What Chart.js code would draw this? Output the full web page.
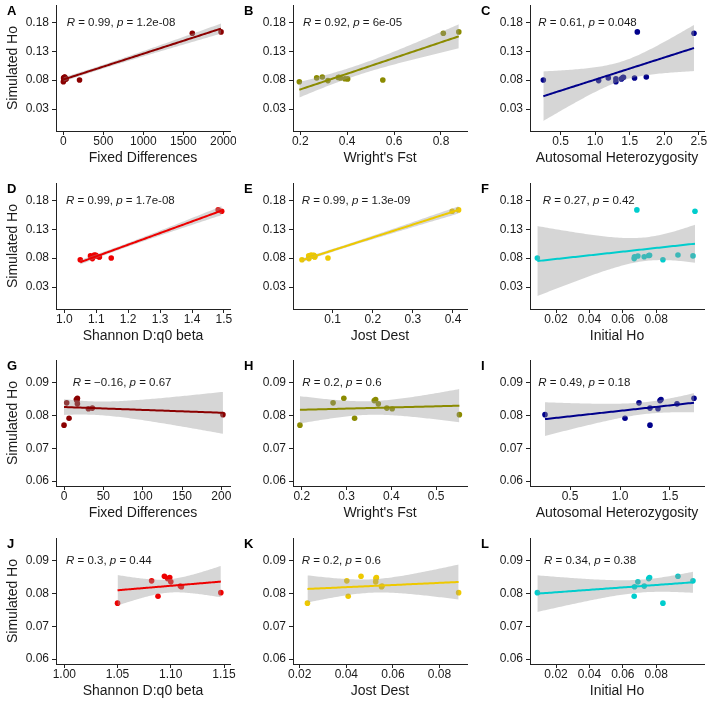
<!DOCTYPE html>
<html>
<head>
<meta charset="utf-8">
<script src="https://cdn.jsdelivr.net/npm/chart.js@4.4.1/dist/chart.umd.min.js"></script>
<style>
  body { margin: 0; background: #fff; }
  #wrap { position: relative; width: 709px; height: 704px; overflow: hidden; }
  .panel { position: absolute; width: 236px; height: 171px; }
</style>
</head>
<body>
<div id="wrap"></div>
<script>
// 12 populations: the first 10 are the close ones (rows 3-4), the last two are the divergent pair
const simHo       = [0.0771, 0.0839, 0.0853, 0.0792, 0.0849, 0.0846, 0.0836, 0.0823, 0.0821, 0.0803, 0.1612, 0.1635];
const fixedDiff   = [0, 3.4, 17, 6.4, 15.7, 16.5, 17, 36, 31, 202, 1612, 1971];
const wrightFst   = [0.196, 0.27, 0.294, 0.318, 0.365, 0.362, 0.371, 0.39, 0.402, 0.552, 0.81, 0.876];
const autoHet     = [1.30, 1.19, 1.74, 1.05, 1.41, 1.40, 1.57, 1.30, 1.38, 0.25, 2.43, 1.61];
const shannonBeta = [1.050, 1.082, 1.094, 1.088, 1.099, 1.097, 1.100, 1.109, 1.110, 1.147, 1.493, 1.482];
const jostDest    = [0.0233, 0.0402, 0.0463, 0.0408, 0.0529, 0.0527, 0.0526, 0.0553, 0.0551, 0.0882, 0.398, 0.414];
const initialHo   = [0.084, 0.102, 0.093, 0.0668, 0.076, 0.0755, 0.069, 0.0728, 0.067, 0.0088, 0.1032, 0.0684];

const xVariables = [fixedDiff, wrightFst, autoHet, shannonBeta, jostDest, initialHo];
const xTitles = ['Fixed Differences', "Wright's Fst", 'Autosomal Heterozygosity', 'Shannon D:q0 beta', 'Jost Dest', 'Initial Ho'];
const panelLetters = ['A','B','C','D','E','F','G','H','I','J','K','L'];
const rLabels = ['0.99', '0.92', '0.61', '0.99', '0.99', '0.27', '\u22120.16', '0.2', '0.49', '0.3', '0.2', '0.34'];
const pLabels = ['1.2e-08', '6e-05', '0.048', '1.7e-08', '1.3e-09', '0.42', '0.67', '0.6', '0.18', '0.44', '0.6', '0.38'];

const xTicks = [
  [0, 500, 1000, 1500, 2000], [0.2, 0.4, 0.6, 0.8], [0.5, 1.0, 1.5, 2.0, 2.5],
  [1.0, 1.1, 1.2, 1.3, 1.4, 1.5], [0.1, 0.2, 0.3, 0.4], [0.02, 0.04, 0.06, 0.08],
  [0, 50, 100, 150, 200], [0.2, 0.3, 0.4, 0.5], [0.5, 1.0, 1.5],
  [1.00, 1.05, 1.10, 1.15], [0.02, 0.04, 0.06, 0.08], [0.02, 0.04, 0.06, 0.08]
];
const xDecimals = [0, 1, 1, 1, 1, 2, 0, 1, 1, 2, 2, 2];
const xLimits = [
  [-92, 2083], [0.169, 0.911], [0.057, 2.575],
  [0.974, 1.519], [0.001, 0.435], [0.0044, 0.1086],
  [-10.2, 211], [0.1805, 0.569], [0.1, 1.84],
  [0.9922, 1.1556], [0.0171, 0.0918], [0.0044, 0.1086]
];
const yTicksTop = [0.03, 0.08, 0.13, 0.18];
const yTicksBottom = [0.06, 0.07, 0.08, 0.09];
const yLimitsTop = [-0.008, 0.21];
const yLimitsBottom = [0.0585, 0.097];

// styling
const palette = ['#8B0000', '#8B8B00', '#00008B', '#EE0000', '#EEC900', '#00CDCD'];
const labelOffsets = [10.7, 10, 8.3, 10, 8.7, 12.7, 16.7, 9.3, 8.3, 10, 8.7, 14];
const tQuantile = { 8: 2.306, 10: 2.228 };
const panelLeft = [0, 237, 474];
const panelTop = [0, 178, 355, 533];
const FONT = '"Liberation Sans", Arial, Helvetica, sans-serif';

Chart.defaults.font.family = FONT;
Chart.defaults.color = '#1a1a1a';
Chart.defaults.animation = false;

function linearFit(xs, ys) {
  const n = xs.length;
  const mx = xs.reduce((a, b) => a + b, 0) / n;
  const my = ys.reduce((a, b) => a + b, 0) / n;
  let sxx = 0, sxy = 0;
  for (let i = 0; i < n; i++) {
    sxx += (xs[i] - mx) ** 2;
    sxy += (xs[i] - mx) * (ys[i] - my);
  }
  const b = sxy / sxx, a = my - b * mx;
  let sse = 0;
  for (let i = 0; i < n; i++) sse += (ys[i] - a - b * xs[i]) ** 2;
  return { a, b, mx, sxx, n, s: Math.sqrt(sse / (n - 2)) };
}

// panel letter + "R = .., p = .." label
const annotate = {
  id: 'annotate',
  afterDraw(chart, args, opts) {
    const ctx = chart.ctx;
    ctx.save();
    ctx.fillStyle = '#000';
    ctx.font = 'bold 13px ' + FONT;
    ctx.textBaseline = 'alphabetic';
    ctx.fillText(opts.letter, 7, 15);

    let x = chart.chartArea.left + opts.dx;
    const y = chart.scales.y.getPixelForValue(opts.labelY);
    ctx.fillStyle = '#1a1a1a';
    ctx.textBaseline = 'middle';
    const parts = [['R', true], [' = ' + opts.r + ', ', false], ['p', true], [' = ' + opts.p, false]];
    parts.forEach(([t, italic]) => {
      ctx.font = (italic ? 'italic ' : '') + '11.5px ' + FONT;
      ctx.fillText(t, x, y);
      x += ctx.measureText(t).width;
    });
    ctx.restore();
  }
};

const wrap = document.getElementById('wrap');

for (let i = 0; i < 12; i++) {
  const row = Math.floor(i / 3), col = i % 3;
  const v = (row % 2) * 3 + col;
  const n = row < 2 ? 12 : 10;
  const xs = xVariables[v].slice(0, n);
  const ys = simHo.slice(0, n);
  const color = palette[v];
  const top = row < 2;

  // lm fit with 95% confidence band, like geom_smooth(method = "lm")
  const fit = linearFit(xs, ys);
  const t = tQuantile[n - 2];
  const lo = Math.min(...xs), hi = Math.max(...xs);
  const fitLine = [], upper = [], lower = [];
  for (let k = 0; k < 80; k++) {
    const x = lo + (hi - lo) * k / 79;
    const yhat = fit.a + fit.b * x;
    const se = fit.s * Math.sqrt(1 / n + (x - fit.mx) ** 2 / fit.sxx);
    fitLine.push({ x, y: yhat });
    upper.push({ x, y: yhat + t * se });
    lower.push({ x, y: yhat - t * se });
  }
  const points = xs.map((x, j) => ({ x, y: ys[j] }));

  const div = document.createElement('div');
  div.className = 'panel';
  div.style.left = panelLeft[col] + 'px';
  div.style.top = panelTop[row] + 'px';
  const cv = document.createElement('canvas');
  cv.width = 236; cv.height = 171;
  div.appendChild(cv);
  wrap.appendChild(div);

  const yTicks = top ? yTicksTop : yTicksBottom;
  const yLim = top ? yLimitsTop : yLimitsBottom;

  new Chart(cv, {
    type: 'scatter',
    data: {
      datasets: [
        { type: 'line', data: fitLine, borderColor: color, borderWidth: 2, pointRadius: 0, fill: false, order: 0 },
        { type: 'line', data: upper, borderColor: 'transparent', borderWidth: 0, pointRadius: 0,
          fill: '+1', backgroundColor: 'rgba(153,153,153,0.4)', order: 1 },
        { type: 'line', data: lower, borderColor: 'transparent', borderWidth: 0, pointRadius: 0, fill: false, order: 2 },
        { data: points, backgroundColor: color, borderWidth: 0, pointRadius: 2.8, order: 3 }
      ]
    },
    options: {
      responsive: false,
      devicePixelRatio: 1,
      layout: { padding: { left: 0, top: 5, right: 6, bottom: 0 } },
      plugins: {
        legend: { display: false },
        tooltip: { enabled: false },
        annotate: {
          letter: panelLetters[i], r: rLabels[i], p: pLabels[i],
          dx: labelOffsets[i], labelY: top ? 0.18 : 0.09
        }
      },
      scales: {
        x: {
          type: 'linear',
          min: xLimits[i][0], max: xLimits[i][1],
          afterBuildTicks: s => { s.ticks = xTicks[i].map(value => ({ value })); },
          afterFit: s => { s.height = 40; s.paddingLeft = 0; s.paddingRight = 0; },
          ticks: {
            callback: val => Number(val).toFixed(xDecimals[i]),
            font: { size: 12 }, color: '#1a1a1a', padding: -1,
            autoSkip: false, maxRotation: 0
          },
          grid: { drawOnChartArea: false, drawTicks: true, tickLength: 4, color: '#222' },
          border: { display: true, color: '#222', width: 1 },
          title: {
            display: true, text: xTitles[v], color: '#1a1a1a',
            font: { size: 14 }, padding: { top: 0, bottom: 4 }
          }
        },
        y: {
          type: 'linear',
          min: yLim[0], max: yLim[1],
          afterBuildTicks: s => { s.ticks = yTicks.map(value => ({ value })); },
          afterFit: s => { s.width = 56; s.paddingTop = 0; s.paddingBottom = 0; },
          ticks: {
            callback: val => Number(val).toFixed(2),
            font: { size: 12 }, color: '#1a1a1a', padding: 3
          },
          grid: { drawOnChartArea: false, drawTicks: true, tickLength: 4, color: '#222' },
          border: { display: true, color: '#222', width: 1 },
          title: {
            display: col === 0, text: 'Simulated Ho', color: '#1a1a1a',
            font: { size: 14 }, padding: { top: 5, bottom: 0 }
          }
        }
      }
    },
    plugins: [annotate]
  });
}
</script>
</body>
</html>
